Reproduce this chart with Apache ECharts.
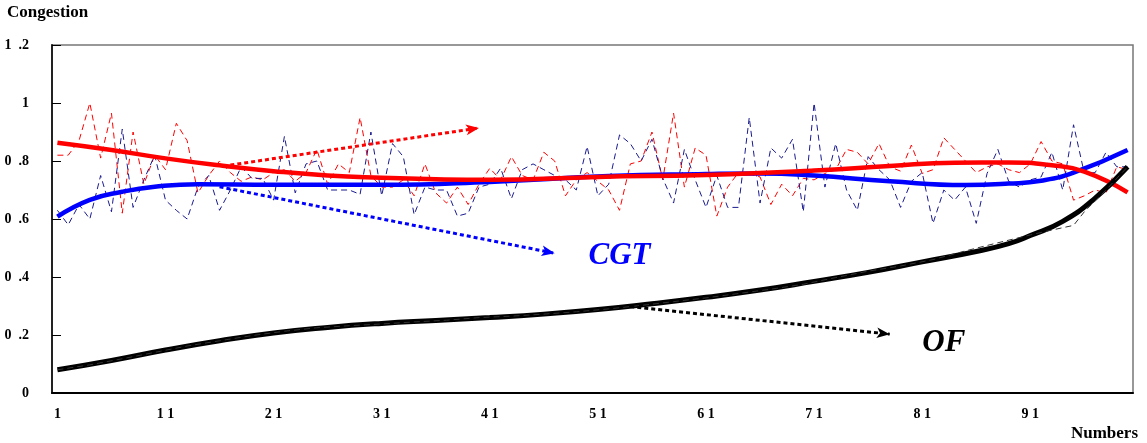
<!DOCTYPE html>
<html>
<head>
<meta charset="utf-8">
<script src="https://cdn.jsdelivr.net/npm/echarts@6/dist/echarts.min.js"></script>
<style>
  html, body { margin: 0; padding: 0; background: #fff; }
  #chart { width: 1147px; height: 443px; }
</style>
</head>
<body>
<div id="chart"></div>
<script>
// categories 1..100
var categories = [];
for (var n = 1; n <= 100; n++) categories.push(String(n));

// raw samples (thin dashed)
var redRaw = [0.82, 0.82, 0.87, 1.0, 0.81, 0.965, 0.62, 0.90, 0.72, 0.82,
  0.77, 0.93, 0.87, 0.69, 0.75, 0.80, 0.76, 0.73, 0.745, 0.735,
  0.76, 0.77, 0.73, 0.76, 0.84, 0.72, 0.79, 0.76, 0.95, 0.75,
  0.71, 0.71, 0.735, 0.68, 0.79, 0.69, 0.655, 0.71, 0.65, 0.72,
  0.775, 0.735, 0.815, 0.75, 0.735, 0.83, 0.80, 0.68, 0.735, 0.76,
  0.73, 0.70, 0.63, 0.79, 0.80, 0.90, 0.735, 0.965, 0.71, 0.845,
  0.82, 0.61, 0.71, 0.76, 0.755, 0.745, 0.65, 0.72, 0.68, 0.74,
  0.735, 0.757, 0.77, 0.84, 0.83, 0.79, 0.86, 0.78, 0.765, 0.855,
  0.757, 0.77, 0.88, 0.84, 0.80, 0.76, 0.78, 0.79, 0.77, 0.76,
  0.79, 0.867, 0.80, 0.79, 0.665, 0.68, 0.70, 0.69, 0.78, 0.77];
var cgtRaw = [0.63, 0.58, 0.65, 0.60, 0.75, 0.625, 0.91, 0.64, 0.735, 0.82,
  0.665, 0.63, 0.60, 0.71, 0.75, 0.63, 0.70, 0.78, 0.74, 0.74,
  0.665, 0.885, 0.69, 0.79, 0.80, 0.70, 0.70, 0.70, 0.685, 0.90,
  0.68, 0.86, 0.815, 0.615, 0.71, 0.70, 0.70, 0.61, 0.62, 0.71,
  0.72, 0.775, 0.67, 0.77, 0.79, 0.77, 0.75, 0.735, 0.70, 0.85,
  0.68, 0.72, 0.89, 0.86, 0.80, 0.875, 0.74, 0.655, 0.84, 0.735,
  0.64, 0.75, 0.64, 0.64, 0.95, 0.655, 0.845, 0.81, 0.875, 0.625,
  1.0, 0.71, 0.86, 0.70, 0.63, 0.815, 0.77, 0.735, 0.64, 0.73,
  0.76, 0.585, 0.70, 0.665, 0.71, 0.585, 0.757, 0.84, 0.73, 0.71,
  0.735, 0.745, 0.83, 0.70, 0.925, 0.757, 0.76, 0.83, 0.78, 0.78];
var ofRawX = [1, 4, 7, 10, 13, 16, 19, 22, 25, 28, 31, 34, 37, 40, 43, 46, 49, 52, 55,
  58, 61, 64, 67, 70, 73, 76, 79, 82, 85, 88, 91, 93, 95, 96, 98, 100];
var ofRaw = [0.08, 0.097, 0.118, 0.14, 0.162, 0.18, 0.198, 0.213, 0.225, 0.232, 0.238,
  0.245, 0.251, 0.26, 0.265, 0.272, 0.28, 0.29, 0.302, 0.315, 0.328, 0.343, 0.358,
  0.375, 0.398, 0.42, 0.438, 0.46, 0.49, 0.518, 0.545, 0.562, 0.578, 0.625, 0.7, 0.78];

// trend curves (thick)
var redTrendX = [1, 6, 11, 16, 21, 26, 31, 36, 41, 51, 61, 71, 78, 84, 89, 93, 96, 100];
var redTrend = [0.863, 0.838, 0.809, 0.785, 0.765, 0.75, 0.742, 0.737, 0.735, 0.745,
  0.752, 0.767, 0.783, 0.794, 0.795, 0.785, 0.763, 0.692];
var cgtTrendX = [1, 4, 7, 10, 14, 21, 31, 41, 52, 61, 66, 71, 78, 85, 89, 92, 95, 100];
var cgtTrend = [0.608, 0.666, 0.694, 0.711, 0.72, 0.718, 0.718, 0.728, 0.748, 0.755,
  0.757, 0.75, 0.73, 0.717, 0.722, 0.732, 0.76, 0.838];
var ofTrendX = [1, 6, 11, 16, 21, 26, 31, 36, 41, 46, 51, 56, 61, 66, 71, 76, 81, 86,
  89, 91, 94, 97, 100];
var ofTrend = [0.08, 0.112, 0.148, 0.18, 0.207, 0.226, 0.24, 0.25, 0.26, 0.272, 0.288,
  0.308, 0.33, 0.355, 0.385, 0.416, 0.452, 0.488, 0.515, 0.543, 0.592, 0.672, 0.78];

// annotation arrows [start, end] in (category index, value)
var redArrow = [[16.1, 0.786], [38.7, 0.914]];
var cgtArrow = [[14.9, 0.711], [46.2, 0.482]];
var ofArrow = [[53.0, 0.298], [76.6, 0.203]];
var cgtLabelAt = [52.0, 0.471];
var ofLabelAt = [82.3, 0.174];

function pairs(xs, ys) {
  return xs.map(function (x, i) { return [String(x), ys[i]]; });
}
function arrow(a, color) {
  return {
    silent: true,
    symbol: ['none', 'arrow'],
    symbolSize: [8, 13],
    label: { show: false },
    lineStyle: { color: color, width: 3, type: [4, 3] },
    emphasis: { disabled: true },
    data: [[{ coord: a[0] }, { coord: a[1] }]]
  };
}
function tag(at, text, color) {
  return {
    silent: true,
    symbolSize: 0,
    data: [{
      coord: at,
      label: {
        show: true, position: 'inside', formatter: text, color: color,
        fontFamily: 'Liberation Serif', fontStyle: 'italic', fontWeight: 'bold', fontSize: 31
      }
    }]
  };
}

var chart = echarts.init(document.getElementById('chart'));
chart.setOption({
  animation: false,
  grid: {
    left: 52, right: 14, top: 45, bottom: 50,
    show: true, borderColor: '#777', borderWidth: 1.5, backgroundColor: 'transparent'
  },
  xAxis: {
    type: 'category',
    data: categories,
    boundaryGap: true,
    axisLine: { lineStyle: { color: '#000', width: 2 } },
    axisTick: { inside: true, length: 5, interval: 0, lineStyle: { color: '#000' } },
    axisLabel: {
      interval: 9, margin: 14, color: '#000',
      fontFamily: 'Liberation Serif', fontWeight: 'bold', fontSize: 14,
      formatter: function (v) { return v.split('').join(' '); }
    },
    splitLine: { show: false }
  },
  yAxis: {
    type: 'value',
    min: 0, max: 1.2, interval: 0.2,
    axisLine: { show: true, lineStyle: { color: '#222', width: 2 } },
    axisTick: { show: true, inside: true, length: 9, lineStyle: { color: '#000' } },
    axisLabel: {
      margin: 23, color: '#000',
      fontFamily: 'Liberation Serif', fontWeight: 'bold', fontSize: 14,
      formatter: function (v) { return String(+v.toFixed(1)).replace('.', '  .'); }
    },
    splitLine: { show: false }
  },
  graphic: [
    { type: 'text', left: 7, top: 4, style: { text: 'Congestion', fill: '#000', font: 'bold 17px "Liberation Serif"' } },
    { type: 'text', right: 9, bottom: 1, style: { text: 'Numbers', fill: '#000', font: 'bold 17px "Liberation Serif"' } }
  ],
  series: [
    {
      name: 'red raw', type: 'line', data: redRaw, symbol: 'none',
      lineStyle: { color: '#ff0000', width: 1, type: [6, 4] },
      markLine: arrow(redArrow, '#ff0000')
    },
    {
      name: 'CGT raw', type: 'line', data: cgtRaw, symbol: 'none',
      lineStyle: { color: '#1a1a90', width: 1, type: [6, 4] },
      markLine: arrow(cgtArrow, '#0000ff'),
      markPoint: tag(cgtLabelAt, 'CGT', '#0000ff')
    },
    {
      name: 'CGT trend', type: 'line', data: pairs(cgtTrendX, cgtTrend), symbol: 'none', smooth: true,
      lineStyle: { color: '#0000ff', width: 4.5 }
    },
    {
      name: 'red trend', type: 'line', data: pairs(redTrendX, redTrend), symbol: 'none', smooth: true,
      lineStyle: { color: '#ff0000', width: 4.5 }
    },
    {
      name: 'OF trend', type: 'line', data: pairs(ofTrendX, ofTrend), symbol: 'none', smooth: true,
      lineStyle: { color: '#000', width: 5 },
      markLine: arrow(ofArrow, '#000'),
      markPoint: tag(ofLabelAt, 'OF', '#000')
    },
    {
      name: 'OF raw', type: 'line', data: pairs(ofRawX, ofRaw), symbol: 'none',
      lineStyle: { color: '#333', width: 1, type: [6, 4] }
    }
  ]
});
</script>
</body>
</html>
